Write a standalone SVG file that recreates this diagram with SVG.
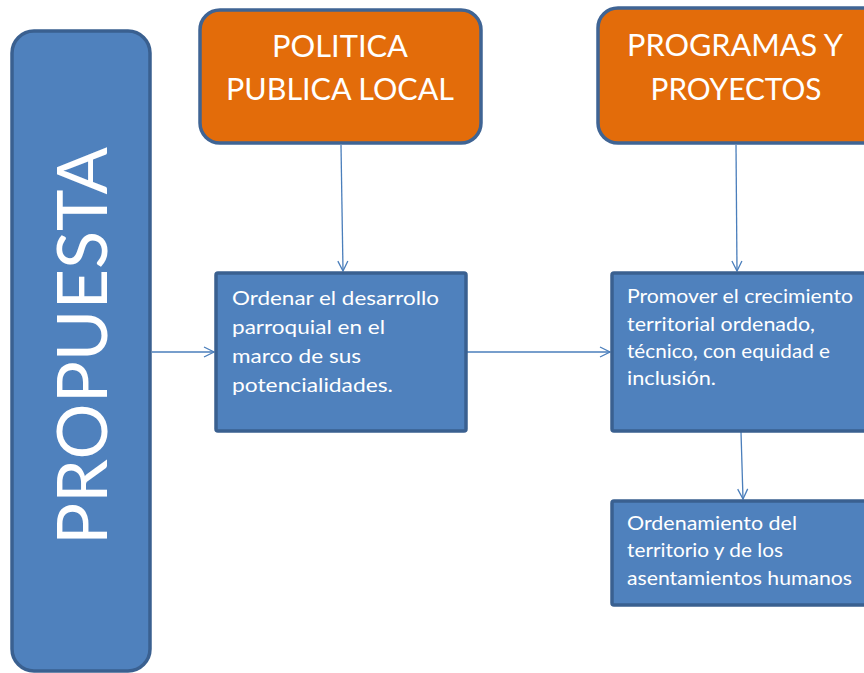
<svg xmlns="http://www.w3.org/2000/svg" width="864" height="673" viewBox="0 0 864 673">
<defs>
<style>
.blue{fill:#4f81bd;stroke:#3a6090;stroke-width:3.5}
.orange{fill:#e36c0a;stroke:#3f6494;stroke-width:3.5}
.t{font-family:Lato,"Open Sans","Liberation Sans",sans-serif;fill:#ffffff}
.hd{font-size:30px;text-anchor:middle}
.bx{font-size:19px}
.conn{stroke:#4a7ebb;stroke-width:1.3;fill:none}
</style>
<marker id="arr" viewBox="0 0 12 12" refX="11" refY="6" markerWidth="12" markerHeight="12" markerUnits="userSpaceOnUse" orient="auto">
<path d="M1,1 L11,6 L1,11" fill="none" stroke="#4a7ebb" stroke-width="1.3"/>
</marker>
</defs>
<rect width="864" height="673" fill="#ffffff"/>
<g id="connectors">
<line class="conn" x1="152" y1="352" x2="214" y2="352" marker-end="url(#arr)"/>
<line class="conn" x1="467" y1="352" x2="610" y2="352" marker-end="url(#arr)"/>
<line class="conn" x1="341" y1="145" x2="343" y2="271" marker-end="url(#arr)"/>
<line class="conn" x1="736" y1="145" x2="737" y2="271" marker-end="url(#arr)"/>
<line class="conn" x1="741" y1="432" x2="743" y2="499" marker-end="url(#arr)"/>
</g>
<g id="propuesta">
<rect class="blue" x="12" y="31" width="138" height="640" rx="22"/>
<text class="t" transform="translate(107,346) rotate(-90)" font-size="70" text-anchor="middle" textLength="398" lengthAdjust="spacingAndGlyphs">PROPUESTA</text>
</g>
<g id="politica">
<rect class="orange" x="200" y="10" width="281" height="133" rx="20"/>
<text class="t hd" x="340" y="57" textLength="136" lengthAdjust="spacingAndGlyphs">POLITICA</text>
<text class="t hd" x="340" y="100" textLength="228" lengthAdjust="spacingAndGlyphs">PUBLICA LOCAL</text>
</g>
<g id="programas">
<rect class="orange" x="598" y="8" width="290" height="135" rx="20"/>
<text class="t hd" x="735" y="56" textLength="216" lengthAdjust="spacingAndGlyphs">PROGRAMAS Y</text>
<text class="t hd" x="736" y="100" textLength="171" lengthAdjust="spacingAndGlyphs">PROYECTOS</text>
</g>
<g id="ordenar">
<rect class="blue" x="216" y="273" width="250" height="158" rx="2"/>
<text class="t bx" font-size="20" x="232" y="305" textLength="207" lengthAdjust="spacingAndGlyphs">Ordenar el desarrollo</text>
<text class="t bx" font-size="20" x="232" y="334" textLength="153" lengthAdjust="spacingAndGlyphs">parroquial en el</text>
<text class="t bx" font-size="20" x="232" y="363" textLength="129" lengthAdjust="spacingAndGlyphs">marco de sus</text>
<text class="t bx" font-size="20" x="232" y="392" textLength="161" lengthAdjust="spacingAndGlyphs">potencialidades.</text>
</g>
<g id="promover">
<rect class="blue" x="612" y="273" width="270" height="158" rx="2"/>
<text class="t bx" x="627" y="303" textLength="226" lengthAdjust="spacingAndGlyphs">Promover el crecimiento</text>
<text class="t bx" x="627" y="331" textLength="188" lengthAdjust="spacingAndGlyphs">territorial ordenado,</text>
<text class="t bx" x="627" y="358" textLength="203" lengthAdjust="spacingAndGlyphs">técnico, con equidad e</text>
<text class="t bx" x="627" y="385" textLength="89" lengthAdjust="spacingAndGlyphs">inclusión.</text>
</g>
<g id="ordenamiento">
<rect class="blue" x="612" y="501" width="270" height="104" rx="2"/>
<text class="t bx" x="627" y="530" textLength="170" lengthAdjust="spacingAndGlyphs">Ordenamiento del</text>
<text class="t bx" x="627" y="557" textLength="156" lengthAdjust="spacingAndGlyphs">territorio y de los</text>
<text class="t bx" x="627" y="585" textLength="225" lengthAdjust="spacingAndGlyphs">asentamientos humanos</text>
</g>
</svg>
